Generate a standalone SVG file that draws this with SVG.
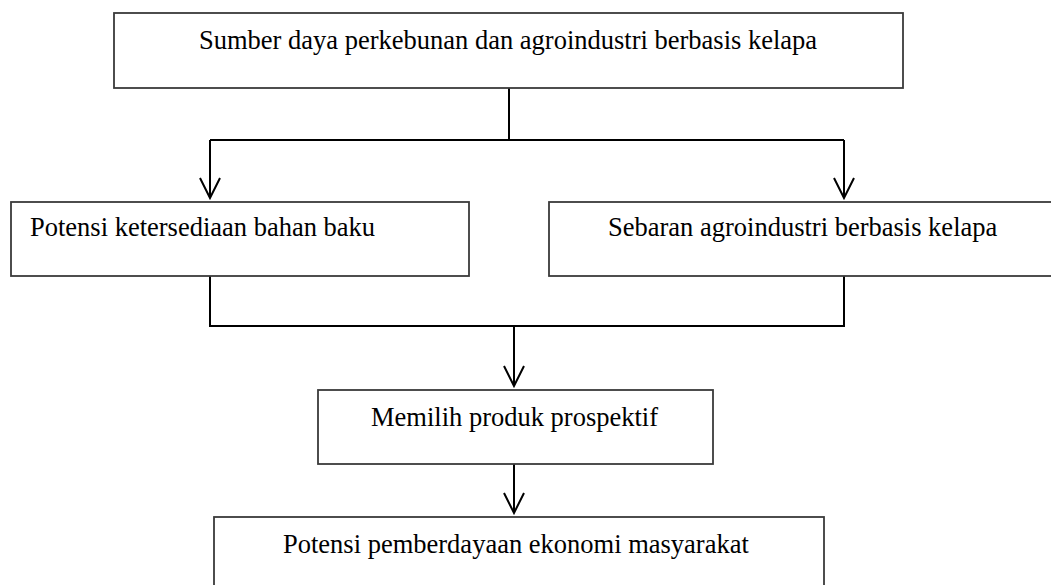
<svg xmlns="http://www.w3.org/2000/svg" width="1051" height="585" viewBox="0 0 1051 585">
  <style>
    .box { fill: #ffffff; stroke: #3a3a3a; stroke-width: 1.8; }
    .lbl { font-family: "Liberation Serif", "Times New Roman", serif; font-size: 26.5px; fill: #000000; }
    .conn { fill: none; stroke: #000000; stroke-width: 2; }
  </style>
  <defs>
    <marker id="arr" markerUnits="userSpaceOnUse" markerWidth="24" markerHeight="24" viewBox="-22 -12 24 24" refX="0" refY="0" orient="auto">
      <path d="M-20,-10 L0,0 L-20,10" fill="none" stroke="#000000" stroke-width="2"/>
    </marker>
  </defs>
  <rect width="1051" height="585" fill="#ffffff"/>

  <g id="connectors">
    <path class="conn" d="M509,88 L509,140"/>
    <path class="conn" d="M210,140 L844,140"/>
    <path class="conn" d="M210,140 L210,198" marker-end="url(#arr)"/>
    <path class="conn" d="M844,140 L844,198" marker-end="url(#arr)"/>
    <path class="conn" d="M210,276 L210,326 L844,326 L844,276"/>
    <path class="conn" d="M514,326 L514,386" marker-end="url(#arr)"/>
    <path class="conn" d="M514,464 L514,513" marker-end="url(#arr)"/>
  </g>

  <g id="node-sumber">
    <rect class="box" x="114" y="13" width="789" height="75"/>
    <text class="lbl" x="199" y="49">Sumber daya perkebunan dan agroindustri berbasis kelapa</text>
  </g>

  <g id="node-potensi-bahan">
    <rect class="box" x="11" y="202" width="458" height="74"/>
    <text class="lbl" x="30" y="236">Potensi ketersediaan bahan baku</text>
  </g>

  <g id="node-sebaran">
    <rect class="box" x="549" y="202" width="520" height="74"/>
    <text class="lbl" x="608" y="236">Sebaran agroindustri berbasis kelapa</text>
  </g>

  <g id="node-memilih">
    <rect class="box" x="318" y="390" width="395" height="74"/>
    <text class="lbl" x="371" y="426">Memilih produk prospektif</text>
  </g>

  <g id="node-pemberdayaan">
    <rect class="box" x="214" y="517" width="610" height="100"/>
    <text class="lbl" x="283" y="553">Potensi pemberdayaan ekonomi masyarakat</text>
  </g>
</svg>
